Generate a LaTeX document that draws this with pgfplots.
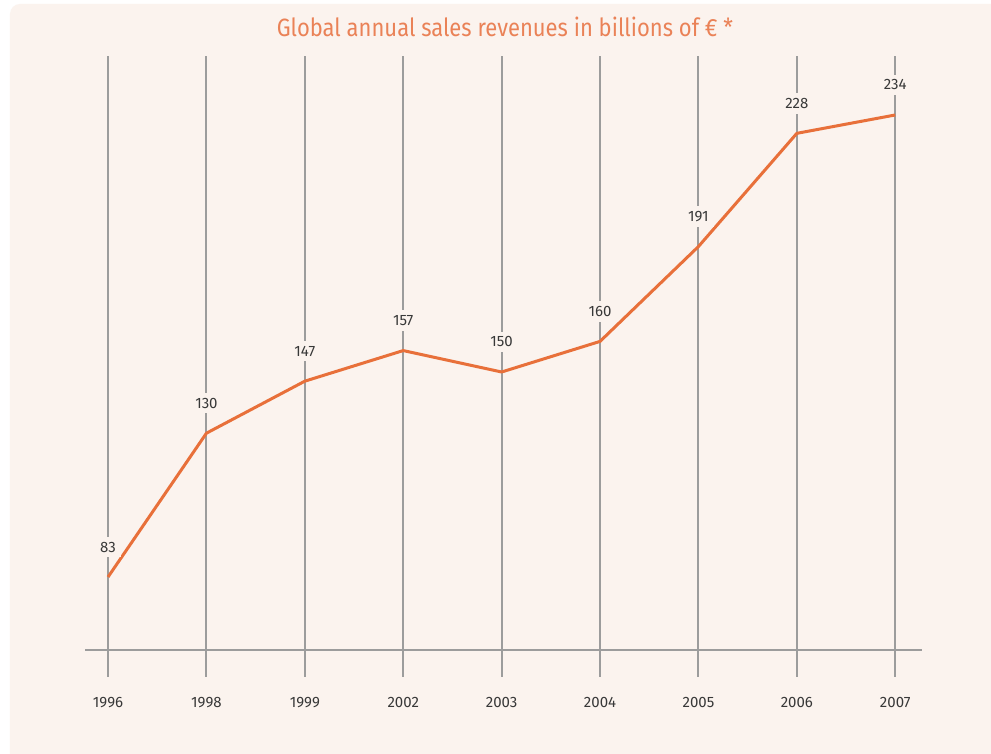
\documentclass[border=0pt]{standalone}
\usepackage{pgfplots}
\pgfplotsset{compat=1.18}
\usepackage{fontspec}
\setmainfont{Fira Sans}
\newfontfamily\titlefont[FakeStretch=0.88]{Fira Sans}

\definecolor{bgpink}{HTML}{FBF3EE}
\definecolor{lineorange}{HTML}{E8703A}
\definecolor{titleorange}{HTML}{EA8257}
\definecolor{gridgray}{HTML}{9C9C9C}
\definecolor{textgray}{HTML}{383838}

\begin{document}
\begin{tikzpicture}
% page: 991 x 754 px at 0.5pt per px, axis south west at px (85,677)
\useasboundingbox (-42.5pt,-38.5pt) rectangle (453pt,338.5pt);
\fill[white] (-42.5pt,-38.5pt) rectangle (453pt,338.5pt);
\fill[bgpink, rounded corners=5pt] (-37.5pt,-50pt) rectangle (465pt,336.5pt);

\begin{axis}[
  at={(0,0)}, anchor=south west,
  scale only axis,
  width=418.5pt, height=310.5pt,
  xmin=-0.234, xmax=8.272,
  ymin=50.32, ymax=253.28,
  axis line style={draw=none},
  major tick length=0pt,
  xtick={0,...,8},
  xticklabels={1996,1998,1999,2002,2003,2004,2005,2006,2007},
  ytick=\empty,
  extra y ticks={59.14},
  extra y tick labels={},
  extra y tick style={grid=major, major grid style={gridgray, line width=1pt}},
  xmajorgrids,
  major grid style={gridgray, line width=1pt},
  xticklabel style={anchor=center, yshift=-13pt, font=\fontsize{7.5}{9}\selectfont, text=textgray},
  /pgf/number format/assume math mode=true,
  clip=false,
]
\addplot[lineorange, line width=1.5pt, line join=round,
  nodes near coords,
  every node near coord/.append style={anchor=center, yshift=15pt,
    fill=bgpink, inner sep=2.5pt, text=textgray, font=\fontsize{7.5}{9}\selectfont}]
  coordinates {
  (0,83) (1,130) (2,147) (3,157) (4,150) (5,160) (6,191) (7,228) (8,234)
};
\end{axis}

\node[text=titleorange, font=\titlefont\fontsize{12.5}{15}\selectfont] at (210pt,325pt)
  {Global annual sales revenues in billions of € *};
\end{tikzpicture}
\end{document}
